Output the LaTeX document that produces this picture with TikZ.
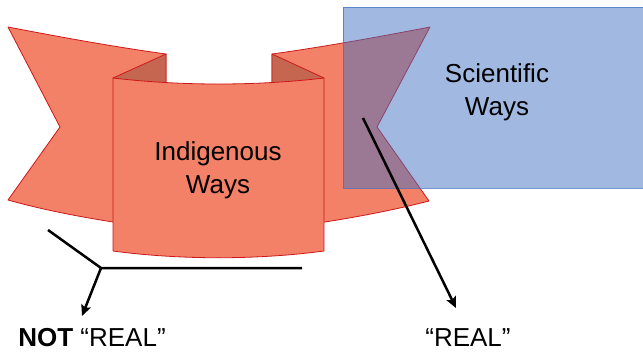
\documentclass[tikz,border=0pt]{standalone}
\usepackage{fontspec}
\setmainfont{Liberation Sans}
\usetikzlibrary{arrows.meta}
\definecolor{ribbonfill}{RGB}{243,129,103}
\definecolor{ribbonedge}{RGB}{204,24,24}
\definecolor{ribbonfold}{RGB}{197,103,80}
\definecolor{sciblue}{RGB}{68,114,196}

\begin{document}
\begin{tikzpicture}[x=1pt, y=-1pt,
  ribbon/.style={fill=ribbonfill, draw=ribbonedge, line width=0.8pt, line join=round},
  fold/.style={fill=ribbonfold, draw=ribbonedge, line width=0.8pt, line join=round},
  lbl/.style={font=\fontsize{26}{33}\selectfont, align=center, inner sep=0pt},
  pointer/.style={line width=2.5pt, -{Stealth[length=11pt, width=10pt, inset=2pt]}}]

\useasboundingbox (0,0) rectangle (643,351);

% ribbon wings
\path[ribbon] (8,27) .. controls (60,37) and (115,47) .. (166,54) -- (166,222)
  -- (113,222) .. controls (75,216) and (40,209) .. (8,200) -- (60,127) -- cycle;
\path[ribbon] (430,27) .. controls (378,37) and (323,47) .. (272,54) -- (272,222)
  -- (325,222) .. controls (363,216) and (398,209) .. (429,201) -- (377,127) -- cycle;

% folds
\path[fold] (113,78) -- (166,54) -- (166,92) -- cycle;
\path[fold] (324,78) -- (272,54) -- (272,92) -- cycle;

% front panel
\path[ribbon] (113,78) .. controls (180,86) and (257,86) .. (324,78) -- (324,251)
  .. controls (257,260) and (180,260) .. (113,251) -- cycle;

% scientific box
\path[fill=sciblue, fill opacity=0.5, draw=sciblue, draw opacity=0.75, line width=0.8pt]
  (343,7) rectangle (647,188);

\node[lbl] (indig) at (218,170) {Indigenous\\Ways};
\node[lbl] (sci) at (497,92) {Scientific\\Ways};
\node[lbl, anchor=base] (notreal) at (92,346) {\textbf{NOT} “REAL”};
\node[lbl, anchor=base] (real) at (468,346) {“REAL”};

\coordinate (forkL) at (48,230);
\coordinate (fork) at (101,268);
\coordinate (forkR) at (302,268);
\coordinate (notrealtip) at (82,316);
\coordinate (realstart) at (363,118);
\coordinate (realtip) at (456,308);

\draw[line width=2.5pt, line join=round] (forkL) -- (fork) -- (forkR);
\draw[pointer] (fork) -- (notrealtip);
\draw[pointer] (realstart) -- (realtip);

\end{tikzpicture}
\end{document}
